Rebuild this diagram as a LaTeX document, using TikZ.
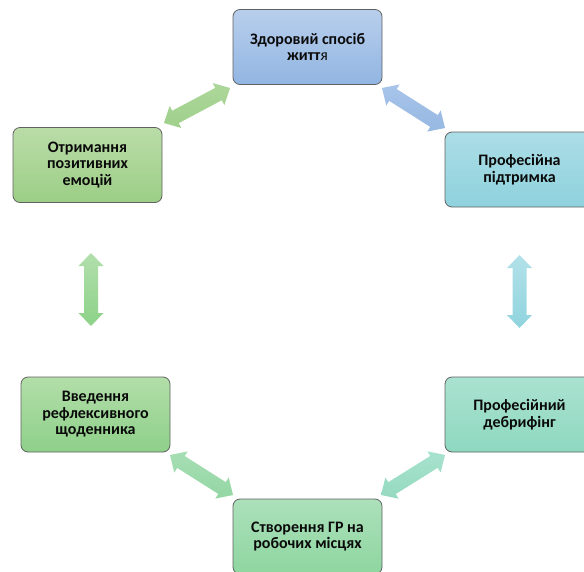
\documentclass[tikz,border=0pt]{standalone}
\usepackage{fontspec}
\setmainfont{Carlito}
\usetikzlibrary{calc}

\definecolor{edge}{HTML}{616161}
\definecolor{ink}{HTML}{0A0A0A}
% card fills (top / bottom)
\definecolor{lifeT}{RGB}{184,207,236}  \definecolor{lifeB}{RGB}{146,181,226}
\definecolor{emoT}{RGB}{186,220,168}   \definecolor{emoB}{RGB}{156,206,134}
\definecolor{helpT}{RGB}{172,221,230}  \definecolor{helpB}{RGB}{142,210,221}
\definecolor{diaT}{RGB}{178,222,168}   \definecolor{diaB}{RGB}{142,208,138}
\definecolor{debT}{RGB}{170,226,208}   \definecolor{debB}{RGB}{142,216,192}
\definecolor{grpT}{RGB}{172,224,186}   \definecolor{grpB}{RGB}{142,214,160}
% arrow fills (top / bottom)
\definecolor{aOneT}{RGB}{172,215,154}  \definecolor{aOneB}{RGB}{160,208,140}
\definecolor{aTwoT}{RGB}{168,196,234}  \definecolor{aTwoB}{RGB}{150,184,226}
\definecolor{aThrT}{RGB}{178,225,233}  \definecolor{aThrB}{RGB}{144,212,222}
\definecolor{aFouT}{RGB}{178,223,172}  \definecolor{aFouB}{RGB}{140,210,136}
\definecolor{aFivT}{RGB}{166,222,180}  \definecolor{aFivB}{RGB}{148,214,164}
\definecolor{aSixT}{RGB}{168,226,206}  \definecolor{aSixB}{RGB}{148,218,192}

% two-headed block arrow between two named points
\newcommand{\twoway}[4]{%
  \path[top color=#3,bottom color=#4]
    (#1)
    -- ($(#1)!13pt!(#2)!12.5pt!90:(#2)$)
    -- ($(#1)!13pt!(#2)!7pt!90:(#2)$)
    -- ($(#2)!13pt!(#1)!7pt!-90:(#1)$)
    -- ($(#2)!13pt!(#1)!12.5pt!-90:(#1)$)
    -- (#2)
    -- ($(#2)!13pt!(#1)!12.5pt!90:(#1)$)
    -- ($(#2)!13pt!(#1)!7pt!90:(#1)$)
    -- ($(#1)!13pt!(#2)!7pt!-90:(#2)$)
    -- ($(#1)!13pt!(#2)!12.5pt!-90:(#2)$)
    -- cycle;}

\tikzset{
  card/.style 2 args={draw=edge, line width=0.8pt, rounded corners=7pt,
    top color=#1, bottom color=#2,
    minimum width=149pt, minimum height=75pt, inner sep=0pt,
    align=center, text=ink,
    font=\fontsize{16}{16.5}\selectfont\bfseries},
}

\begin{document}
\begin{tikzpicture}[x=1pt,y=-1pt]
\useasboundingbox (0,0) rectangle (584,571);
\clip (0,0) rectangle (584,571);

% the six stages
\node[card={lifeT}{lifeB}] (life) at (307.5,47) {Здоровий спосіб\\житт{\mdseries я}};
\node[card={emoT}{emoB}] (emo) at (87.5,165) {Отримання\\позитивних\\емоцій};
\node[card={helpT}{helpB}] (help) at (519.5,169.5) {Професійна\\підтримка};
\node[card={diaT}{diaB}] (diary) at (95.5,414.5) {Введення\\рефлексивного\\щоденника};
\node[card={debT}{debB}] (debrief) at (519.5,414.5) {Професійний\\дебрифінг};
\node[card={grpT}{grpB}] (groups) at (307.5,536.5) {Створення ГР на\\робочих місцях};

% arrow end points beside the cards
\coordinate (emoA)  at (164,123);  \coordinate (lifeA) at (230,88);
\coordinate (lifeB) at (382,88);   \coordinate (helpA) at (445,128);
\coordinate (helpB) at (519.5,255);\coordinate (debA)  at (519.5,328);
\coordinate (emoB)  at (91,253);   \coordinate (diaA)  at (91,326);
\coordinate (diaB)  at (170,455);  \coordinate (grpA)  at (233,495);
\coordinate (grpB)  at (381,495);  \coordinate (debB)  at (445,455);

% two-way links between neighbouring stages
\twoway{emoA}{lifeA}{aOneT}{aOneB}
\twoway{lifeB}{helpA}{aTwoT}{aTwoB}
\twoway{helpB}{debA}{aThrT}{aThrB}
\twoway{emoB}{diaA}{aFouT}{aFouB}
\twoway{diaB}{grpA}{aFivT}{aFivB}
\twoway{grpB}{debB}{aSixT}{aSixB}
\end{tikzpicture}
\end{document}
